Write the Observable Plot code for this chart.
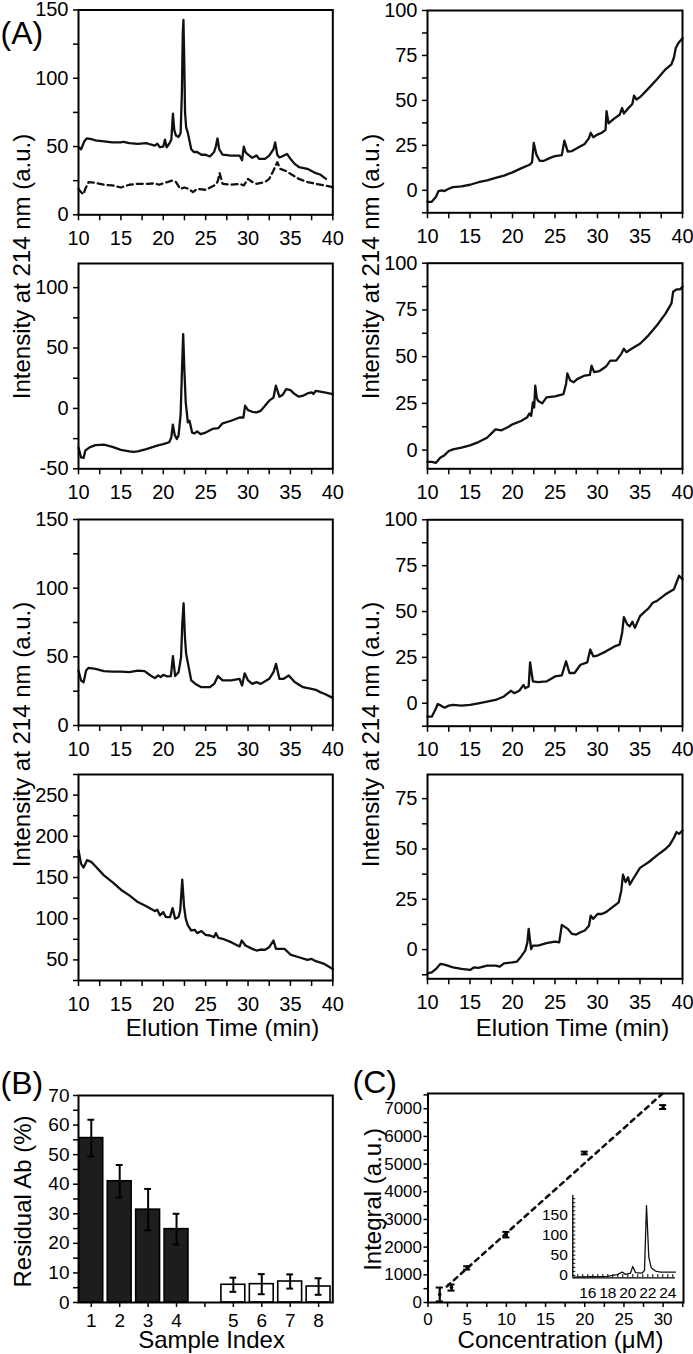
<!DOCTYPE html>
<html><head><meta charset="utf-8">
<title>Chromatograms, residual Ab and calibration</title>
<script src="https://cdn.jsdelivr.net/npm/d3@7"></script>
<script src="https://cdn.jsdelivr.net/npm/@observablehq/plot@0.6"></script>
<style>
html,body{margin:0;padding:0;background:#fff;overflow:hidden;}
#fig{position:relative;width:693px;height:1354px;background:#fff;}
</style></head><body><div id="fig"></div>
<script>
// ---------------- DATA ----------------
// Panel A, row 1 left (solid and dashed traces)
const t1 = [10,10.3,10.7,11,11.5,12,13,14,15,15.3,16,17,18,18.5,19,19.3,19.6,20,20.2,20.4,20.7,20.95,21.14,21.3,21.5,21.8,22.05,22.2,22.3,22.38,22.47,22.57,22.7,22.9,23.1,23.3,23.6,24,24.5,25,25.5,26,26.2,26.4,26.6,26.8,27,28,29,29.3,29.5,29.7,29.9,30.5,31,31.3,32,32.5,33,33.2,33.45,33.7,34,34.6,35,35.5,36,37,38,38.5,39.2];
const v1 = [49.5,48,54,56,55.5,54.5,53.7,53,53,53.5,52.5,52,52.5,51.5,50.7,52,49.5,50,55,49.5,52,55,74,62,58,57,60,90,132,142.7,115,75,64,60,54,48,46,46,44,44,42.7,46,50,56,48,46,44,43.4,43.4,40,50,46,44.6,41.7,43.4,41,41,43.4,48,53,44,42,42.7,44.6,41,37.3,35,33.7,30.5,29.5,26.3];
const t1b = [10,10.3,10.6,10.8,11.2,12,13,14,15,16,17,18,19,19.5,20,20.5,21,21.5,22,22.5,23,23.5,24,25,26,26.4,26.65,27,28,29,29.5,30,30.5,31,32,32.5,33,33.45,33.8,34.5,35,36,37,38,39,40];
const v1b = [19,16.6,15,19,24,23.4,22,21.5,20,22,22.7,22.7,23,22,23,24,25,24,19,20,19,16.6,19,18.3,21.5,24,30.5,22.7,22,22.7,21.5,26.3,24,22.7,24,26.3,32.4,38.5,33.7,32,30,26.3,24,22.7,21.5,20.2];
// row 1 right
const t2 = [10,10.5,11,11.3,11.7,12,12.5,13,14,15,16,17,18,19,20,21,22,22.3,22.5,22.8,23.2,23.7,24.5,25,25.8,26.1,26.5,27,28,28.5,29,29.2,29.5,30,30.5,30.95,31.06,31.3,32,32.6,32.9,33.1,33.5,34.1,34.3,34.6,35,36,37,38,38.7,39,39.2,39.5,40];
const v2 = [-6.4,-6.4,-3.6,-0.4,0,-0.4,0.9,1.8,2.2,3.1,4.5,5.5,6.9,8.2,10,12.2,14.2,15.5,26.4,20,16.4,16.4,18.2,19,19.6,27.6,21.5,21.8,24.5,25.8,29,32,29.5,31,32,33.6,44,37.3,40,42,45.8,42.7,45,48,52.7,50.5,51.8,56.7,61.8,67.3,70,74,79,81.8,84.5];
// row 2 left
const t3 = [10,10.3,10.6,10.8,11.3,12,13,14,15,16,16.5,17,18,19,19.5,20,20.7,20.95,21.13,21.35,21.6,21.8,22.05,22.2,22.35,22.5,22.65,22.9,23.1,23.4,23.7,24,24.4,25,25.8,26.5,27,28,29,29.45,29.66,30,30.5,31,31.5,32,32.5,33,33.28,33.7,34.1,34.5,35,35.5,36,36.5,37,37.5,37.7,38,39,40];
const v3 = [-32.3,-40.6,-41,-35,-32.3,-30.4,-30,-31.8,-34.3,-35.6,-36,-35.6,-33.7,-31.5,-30.4,-29.6,-28,-24,-13.5,-22,-25.4,-22.7,-5,30,61.6,30,5,-11.6,-10.2,-20,-20.7,-19,-21.3,-20,-17,-16.3,-12.4,-10.2,-7.5,-7.5,2.2,-1.4,-2.8,-3.3,-2,2.2,6.4,9,18.8,9.7,11.3,16,15.2,11.9,9.7,10.5,12.4,13.3,11.9,14.6,13.3,11.9];
// row 2 right
const t4 = [10,10.5,11,11.5,12,12.5,13,14,15,16,17,17.5,18,18.7,19.5,20,21,21.7,22,22.2,22.4,22.55,22.68,22.85,23.0,23.5,24,25,26,26.3,26.45,26.8,27.2,27.6,28.5,29.1,29.3,29.6,30.2,31,31.5,32.2,32.8,33.1,33.4,34,35,36,37,38,38.7,38.9,39.3,39.7,40];
const v4 = [-6.3,-6.3,-6.8,-4.1,-2.7,-0.5,0.4,1.3,2.5,4.3,6.6,8.8,11.1,10.6,12.4,13.8,15.6,17.4,19.6,18.3,25.5,22.8,34.5,28,26.4,25,28.2,28.7,30,35.4,41,37.2,36.3,38,39.9,40.2,45.2,41.7,42.2,44.7,47.9,47.9,51.5,54.2,52.4,54.2,56.9,61.4,66.8,73,78.5,84.7,86,86,87.4];
// row 3 left
const t5 = [10,10.3,10.6,10.9,11.2,12,13,14,15,16,17,17.8,18.5,19,19.4,19.7,20,20.5,20.9,21.14,21.4,21.8,22.1,22.25,22.4,22.55,22.7,23,23.3,23.8,24.5,25.5,26,26.45,27,28,29,29.3,29.6,30,30.5,31,31.5,32.5,33,33.3,33.7,34.2,34.8,35.5,36.5,37.5,38,38.5,39,40];
const v5 = [40,32.8,31.5,40,42,41.3,39.6,39.3,39.3,38.8,40,39.6,36.4,34.5,36.4,35.2,36.9,35.7,36,50.5,36,38.8,49.8,75,89,65,52,42.5,32.8,30.3,27.9,27.9,30.3,36,32.8,32.8,34,29.1,38,32.8,30.3,31.6,30.3,34,38.8,44.9,34,34,36.4,31.6,27.9,26.7,26,24.3,23.1,20.1];
// row 3 right
const t6 = [10,10.5,11,11.2,11.6,12,12.5,13,14,15,16,17,18,19,19.8,20.2,20.8,21.3,21.5,21.9,22.07,22.4,23,24,25,25.8,26.3,26.7,27.3,28,28.8,29.15,29.5,30,31,32,32.6,32.9,33.1,33.5,33.8,34.1,34.4,35,35.5,36,36.5,37,37.5,38,39,39.6,40];
const v6 = [-7.3,-7.3,-2.7,-0.4,-1.3,-2.4,-1.3,-0.9,-1.3,-0.9,0,0.9,1.8,3.7,6.8,5.5,6.8,10,8.2,9.1,22.3,11.9,11.5,11.9,14.6,15.2,22.9,16.5,16.5,21,22.3,29.3,25.6,26,28.3,31,32,38.4,47,43,42,44.4,41.1,47.5,49.7,51.7,54.8,55.8,57.6,59.4,62.2,69.5,67.6];
// row 4 left
const t7 = [10,10.3,10.6,11,11.5,12,13,14,15,16,17,18,19,19.3,19.6,20,20.3,20.8,21.1,21.4,21.8,22.0,22.24,22.45,22.65,22.9,23.3,23.7,24,24.5,25,25.5,26,26.2,26.5,27,28,29,29.25,29.7,30.5,31,31.5,32,32.5,33,33.3,33.7,34.3,35,36,37,37.5,38,39,40];
const v7 = [183,166.8,162,171,169,163.6,152.6,144.5,135.2,128.3,120.2,115,109.2,110.9,104,108,102,102,112.9,100,102,110,147.4,115,100,91.8,85.7,86.5,82.5,85,80.4,79.6,77.6,82.5,76.8,75.6,71.5,66.2,73.5,67.4,63.4,61.4,62.6,62.2,65.4,73.5,63.4,63.4,63.4,56.5,53.2,50,51.2,48.4,45.1,39];
// row 4 right
const t8 = [10,10.5,11,11.5,12,13,14,15,15.5,16,17,18,18.5,19,20,20.5,21,21.5,21.75,21.9,22.05,22.2,22.4,23,24,25,25.5,25.8,26.5,27,27.5,28,28.5,29,29.2,29.5,30,30.5,31,32,32.5,32.8,33,33.3,33.6,33.8,34.2,35,36,37,38,38.5,39,39.3,39.6,40];
const v8 = [-11.8,-11.3,-9.6,-7.1,-7.5,-8.8,-9.6,-10.1,-8.8,-9.1,-8,-8,-8.5,-6.8,-6.3,-6,-3.5,-0.5,3.6,10.3,5,0.3,2,2,3.2,4,3.6,12.3,10.3,7.8,7.5,8.6,9.5,11.9,16.9,15.3,17.7,17.7,18.6,21.9,23.5,29.4,37.3,33.5,36,32.3,35.2,40.6,43.4,46.8,50,52,55.6,58.4,57.5,59.2];

// Panel B
const samples = ["1","2","3","4","5","6","7","8"];
const residual = [55.6,41,31.4,24.8,6,6.2,7.1,5.4];
const residualErr = [6.2,5.5,7,5.2,2.4,3.4,2.4,2.8];
const sampleGroup = ["filled","filled","filled","filled","open","open","open","open"];

// Panel C
const conc = [1.5,3,5,10,20,30];
const integral = [290,540,1250,2450,5400,7060];
const integralErr = [250,110,60,100,50,70];
const fitConc = [2.4,29.9];
const fitIntegral = [580,7540];
// Panel C inset chromatogram
const insetT = [14.6,16.27,17.94,18.94,19.44,19.77,20.27,20.5,20.77,21.44,21.67,21.87,22.1,22.34,22.77,23.27,24.77];
const insetV = [-4.2,-3.3,-2.5,1.7,8.2,2.5,5.8,22.3,6.6,5.8,12.4,173,45,19,10.7,8.2,8.2];

// ---------------- DRAWING ----------------
const W = 693, H = 1354;
const FONT = "'Liberation Sans', Arial, Helvetica, sans-serif";
const fig = document.getElementById("fig");

function place({fontSize = 20, ...opts}) {
  const svg = Plot.plot({
    width: W, height: H, ...opts,
    style: {position: "absolute", left: "0px", top: "0px", background: "transparent",
            overflow: "visible", fontFamily: FONT, fontSize: fontSize + "px", color: "#000"}
  });
  fig.appendChild(svg);
}
const pts = (t, v) => t.map((x, i) => ({x, y: v[i]}));
const fmtEvery = step => d => (Math.abs(d % step) < 1e-9 ? String(d) : "");

function chrom(frame, yDomain, yTicks, yStep, series) {
  const [x0, y0, x1, y1] = frame;
  place({
    marginLeft: x0, marginRight: W - x1, marginTop: y0, marginBottom: H - y1,
    x: {domain: [10, 40]}, y: {domain: yDomain},
    marks: [
      ...series.map(s => Plot.line(pts(s.t, s.v), {x: "x", y: "y", stroke: "#111", strokeWidth: 2.3,
        strokeDasharray: s.dash || null})),
      Plot.frame({stroke: "#000", strokeWidth: 2}),
      Plot.axisX({ticks: d3.range(10, 40.01, 2.5), tickFormat: fmtEvery(5), tickSize: 6, tickPadding: 10,
        strokeWidth: 1.5, label: null}),
      Plot.axisY({ticks: yTicks, tickFormat: fmtEvery(yStep), tickSize: 5, tickPadding: 5,
        strokeWidth: 1.5, label: null})
    ]
  });
}

const L = [78, 332.3], R = [427, 682];
chrom([L[0], 9.5, L[1], 214.3], [0, 150], d3.range(0, 150.01, 25), 50,
  [{t: t1, v: v1}, {t: t1b, v: v1b, dash: "6,4"}]);
chrom([R[0], 10, R[1], 212.3], [-12.5, 100], d3.range(-12.5, 100.01, 12.5), 25, [{t: t2, v: v2}]);
chrom([L[0], 263, L[1], 468.3], [-50, 120], d3.range(-50, 120, 25), 50, [{t: t3, v: v3}]);
chrom([R[0], 262.7, R[1], 468.3], [-10, 100], d3.range(0, 100.01, 12.5), 25, [{t: t4, v: v4}]);
chrom([L[0], 519, L[1], 725], [0, 150], d3.range(0, 150.01, 25), 50, [{t: t5, v: v5}]);
chrom([R[0], 519.3, R[1], 725.7], [-12.5, 100], d3.range(-12.5, 100.01, 12.5), 25, [{t: t6, v: v6}]);
chrom([L[0], 774, L[1], 980], [25, 275], d3.range(25, 275.01, 25), 50, [{t: t7, v: v7}]);
chrom([R[0], 774, R[1], 978.3], [-14.5, 87], d3.range(-12.5, 87, 12.5), 25, [{t: t8, v: v8}]);

// Panel B
const bRows = samples.map((s, i) => ({s, pos: i < 4 ? i + 1 : i + 2, v: residual[i], e: residualErr[i], g: sampleGroup[i]}));
const bPositions = bRows.map(d => d.pos);
place({
  fontSize: 19,
  marginLeft: 78, marginRight: W - 332.3, marginTop: 1095, marginBottom: H - 1302,
  x: {domain: [0.55, 9.5]}, y: {domain: [0, 70]},
  marks: [
    Plot.rectY(bRows, {x1: d => d.pos - 0.42, x2: d => d.pos + 0.42, y1: 0, y2: "v",
      fill: d => d.g === "filled" ? "#1d1d1d" : "#ffffff", stroke: "#000", strokeWidth: 1.6}),
    Plot.ruleX(bRows, {x: "pos", y1: d => d.v - d.e, y2: d => d.v + d.e, stroke: "#000", strokeWidth: 2}),
    Plot.ruleY(bRows, {y: d => d.v + d.e, x1: d => d.pos - 0.12, x2: d => d.pos + 0.12, stroke: "#000", strokeWidth: 2}),
    Plot.ruleY(bRows, {y: d => d.v - d.e, x1: d => d.pos - 0.12, x2: d => d.pos + 0.12, stroke: "#000", strokeWidth: 2}),
    Plot.frame({stroke: "#000", strokeWidth: 2}),
    Plot.axisX({ticks: d3.range(1, 10), tickFormat: p => { const i = bPositions.indexOf(p); return i >= 0 ? samples[i] : ""; },
      tickSize: 5, tickPadding: 6, strokeWidth: 1.5, label: null}),
    Plot.axisY({ticks: d3.range(0, 70.01, 5), tickFormat: fmtEvery(10), tickSize: 5, tickPadding: 4,
      strokeWidth: 1.5, label: null})
  ]
});

// Panel C
const cRows = conc.map((c, i) => ({c, v: integral[i], e: integralErr[i]}));
place({
  fontSize: 17,
  marginLeft: 427.5, marginRight: W - 683, marginTop: 1093, marginBottom: H - 1302,
  x: {domain: [0, 32.6]}, y: {domain: [0, 7550]},
  marks: [
    Plot.line(pts(fitConc, fitIntegral), {x: "x", y: "y", stroke: "#111", strokeWidth: 2.6, strokeDasharray: "4.5,5"}),
    Plot.ruleX(cRows, {x: "c", y1: d => d.v - d.e, y2: d => d.v + d.e, stroke: "#000", strokeWidth: 2.2}),
    Plot.ruleY(cRows, {y: d => d.v + d.e, x1: d => d.c - 0.45, x2: d => d.c + 0.45, stroke: "#000", strokeWidth: 2}),
    Plot.ruleY(cRows, {y: d => d.v - d.e, x1: d => d.c - 0.45, x2: d => d.c + 0.45, stroke: "#000", strokeWidth: 2}),
    Plot.dot(cRows, {x: "c", y: "v", r: 1.8, fill: "#000"}),
    Plot.frame({stroke: "#000", strokeWidth: 2}),
    Plot.axisX({ticks: d3.range(0, 32.6, 2.5), tickFormat: fmtEvery(5), tickSize: 5, tickPadding: 5,
      strokeWidth: 1.5, label: null}),
    Plot.axisY({ticks: d3.range(0, 7550, 500), tickFormat: fmtEvery(1000), tickSize: 4, tickPadding: 2,
      strokeWidth: 1.5, label: null})
  ]
});

// Inset
const iX = [14.5, 24.77], iY = [-6, 198];
place({
  fontSize: 15.5,
  marginLeft: 572.3, marginRight: W - 675, marginTop: 1195, marginBottom: H - 1277.3,
  x: {domain: iX}, y: {domain: iY},
  marks: [
    Plot.line(pts(insetT, insetV), {x: "x", y: "y", stroke: "#111", strokeWidth: 1.3}),
    Plot.ruleX([iX[0]], {stroke: "#000", strokeWidth: 1.3}),
    Plot.ruleY([iY[0]], {stroke: "#000", strokeWidth: 1.3}),
    Plot.ruleY(d3.range(0, 191, 10), {y: d => d, x1: iX[0], x2: iX[0] + 0.3, stroke: "#000", strokeWidth: 1}),
    Plot.ruleX(d3.range(15, 24.6, 0.5), {x: d => d, y1: iY[0], y2: iY[0] + 8, stroke: "#000", strokeWidth: 1}),
    Plot.axisY({ticks: [0, 50, 100, 150], tickSize: 0, tickPadding: 5, label: null}),
    Plot.axisX({ticks: [16, 18, 20, 22, 24], tickSize: 0, tickPadding: 9, label: null})
  ]
});

// Titles and panel letters
const letters = [
  {text: "(A)", x: 0, y: 33},
  {text: "(B)", x: 0, y: 1083},
  {text: "(C)", x: 352, y: 1082}
];
const titles = [
  {text: "Intensity at 214 nm (a.u.)", x: 22, y: 266, r: -90},
  {text: "Intensity at 214 nm (a.u.)", x: 371, y: 266, r: -90},
  {text: "Intensity at 214 nm (a.u.)", x: 22, y: 734, r: -90},
  {text: "Intensity at 214 nm (a.u.)", x: 371, y: 734, r: -90},
  {text: "Elution Time (min)", x: 222, y: 1028, r: 0},
  {text: "Elution Time (min)", x: 572, y: 1028, r: 0},
  {text: "Residual Ab (%)", x: 23, y: 1201, r: -90},
  {text: "Sample Index", x: 211, y: 1340, r: 0},
  {text: "Integral (a.u.)", x: 373, y: 1199, r: -90},
  {text: "Concentration (\u03bcM)", x: 560, y: 1340, r: 0}
];
place({
  fontSize: 24, margin: 0,
  x: {domain: [0, W], range: [0, W], axis: null}, y: {domain: [0, H], range: [0, H], axis: null},
  marks: [
    Plot.text(letters, {x: "x", y: "y", text: "text", fontSize: 32, textAnchor: "start", lineAnchor: "middle", fill: "#000"}),
    Plot.text(titles, {x: "x", y: "y", text: "text", rotate: "r", fontSize: 24, textAnchor: "middle", lineAnchor: "middle", fill: "#000"})
  ]
});
</script>
</body></html>
